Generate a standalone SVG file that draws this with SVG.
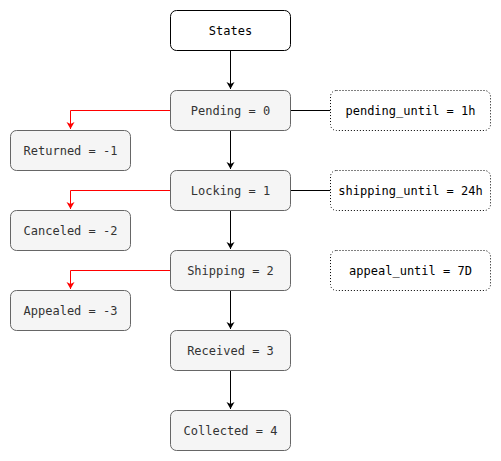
<svg xmlns="http://www.w3.org/2000/svg" width="501" height="461" viewBox="0 0 501 461">
<style>
.n{fill:#f5f5f5;stroke:#666666;stroke-width:1}
.s{fill:#ffffff;stroke:#000000;stroke-width:1}
.d{fill:#ffffff;stroke:#000000;stroke-width:1;stroke-dasharray:1 2}
text{font-family:"DejaVu Sans Mono","Liberation Mono",monospace;font-size:12px;text-anchor:middle;dominant-baseline:central}
.g{fill:#333333}
.k{fill:#000000}
.e{fill:none;stroke:#000000;stroke-width:1}
.r{fill:none;stroke:#ff0000;stroke-width:1}
</style>
<defs>
<marker id="ab" markerWidth="10" markerHeight="10" refX="7" refY="5" orient="auto" markerUnits="userSpaceOnUse"><path d="M0,1 L7,5 L0,9 L2,5 Z" fill="#000000"/></marker>
<marker id="ar" markerWidth="10" markerHeight="10" refX="7" refY="5" orient="auto" markerUnits="userSpaceOnUse"><path d="M0,1 L7,5 L0,9 L2,5 Z" fill="#ff0000"/></marker>
</defs>
<g id="connectors">
<path class="e" d="M230.5,50.5 V89" marker-end="url(#ab)"/>
<path class="e" d="M230.5,130.5 V169" marker-end="url(#ab)"/>
<path class="e" d="M230.5,210.5 V249" marker-end="url(#ab)"/>
<path class="e" d="M230.5,290.5 V329" marker-end="url(#ab)"/>
<path class="e" d="M230.5,370.5 V409" marker-end="url(#ab)"/>
<path class="e" d="M290.5,110.5 H330.5"/>
<path class="e" d="M290.5,190.5 H330.5"/>
<path class="r" d="M170.5,110.5 H70.5 V129" marker-end="url(#ar)"/>
<path class="r" d="M170.5,190.5 H70.5 V209" marker-end="url(#ar)"/>
<path class="r" d="M170.5,270.5 H70.5 V289" marker-end="url(#ar)"/>
</g>
<g id="states"><rect class="s" x="170.5" y="10.5" width="120" height="40" rx="6"/><text class="k" x="230.5" y="30.5">States</text></g>
<g id="pending"><rect class="n" x="170.5" y="90.5" width="120" height="40" rx="6"/><text class="g" x="230.5" y="110.5">Pending = 0</text></g>
<g id="locking"><rect class="n" x="170.5" y="170.5" width="120" height="40" rx="6"/><text class="g" x="230.5" y="190.5">Locking = 1</text></g>
<g id="shipping"><rect class="n" x="170.5" y="250.5" width="120" height="40" rx="6"/><text class="g" x="230.5" y="270.5">Shipping = 2</text></g>
<g id="received"><rect class="n" x="170.5" y="330.5" width="120" height="40" rx="6"/><text class="g" x="230.5" y="350.5">Received = 3</text></g>
<g id="collected"><rect class="n" x="170.5" y="410.5" width="120" height="40" rx="6"/><text class="g" x="230.5" y="430.5">Collected = 4</text></g>
<g id="returned"><rect class="n" x="10.5" y="130.5" width="120" height="40" rx="6"/><text class="g" x="70.5" y="150.5">Returned = -1</text></g>
<g id="canceled"><rect class="n" x="10.5" y="210.5" width="120" height="40" rx="6"/><text class="g" x="70.5" y="230.5">Canceled = -2</text></g>
<g id="appealed"><rect class="n" x="10.5" y="290.5" width="120" height="40" rx="6"/><text class="g" x="70.5" y="310.5">Appealed = -3</text></g>
<g id="pending_until"><rect class="d" x="330.5" y="90.5" width="160" height="40" rx="6"/><text class="k" x="410.5" y="110.5">pending_until = 1h</text></g>
<g id="shipping_until"><rect class="d" x="330.5" y="170.5" width="160" height="40" rx="6"/><text class="k" x="410.5" y="190.5">shipping_until = 24h</text></g>
<g id="appeal_until"><rect class="d" x="330.5" y="250.5" width="160" height="40" rx="6"/><text class="k" x="410.5" y="270.5">appeal_until = 7D</text></g>
</svg>
